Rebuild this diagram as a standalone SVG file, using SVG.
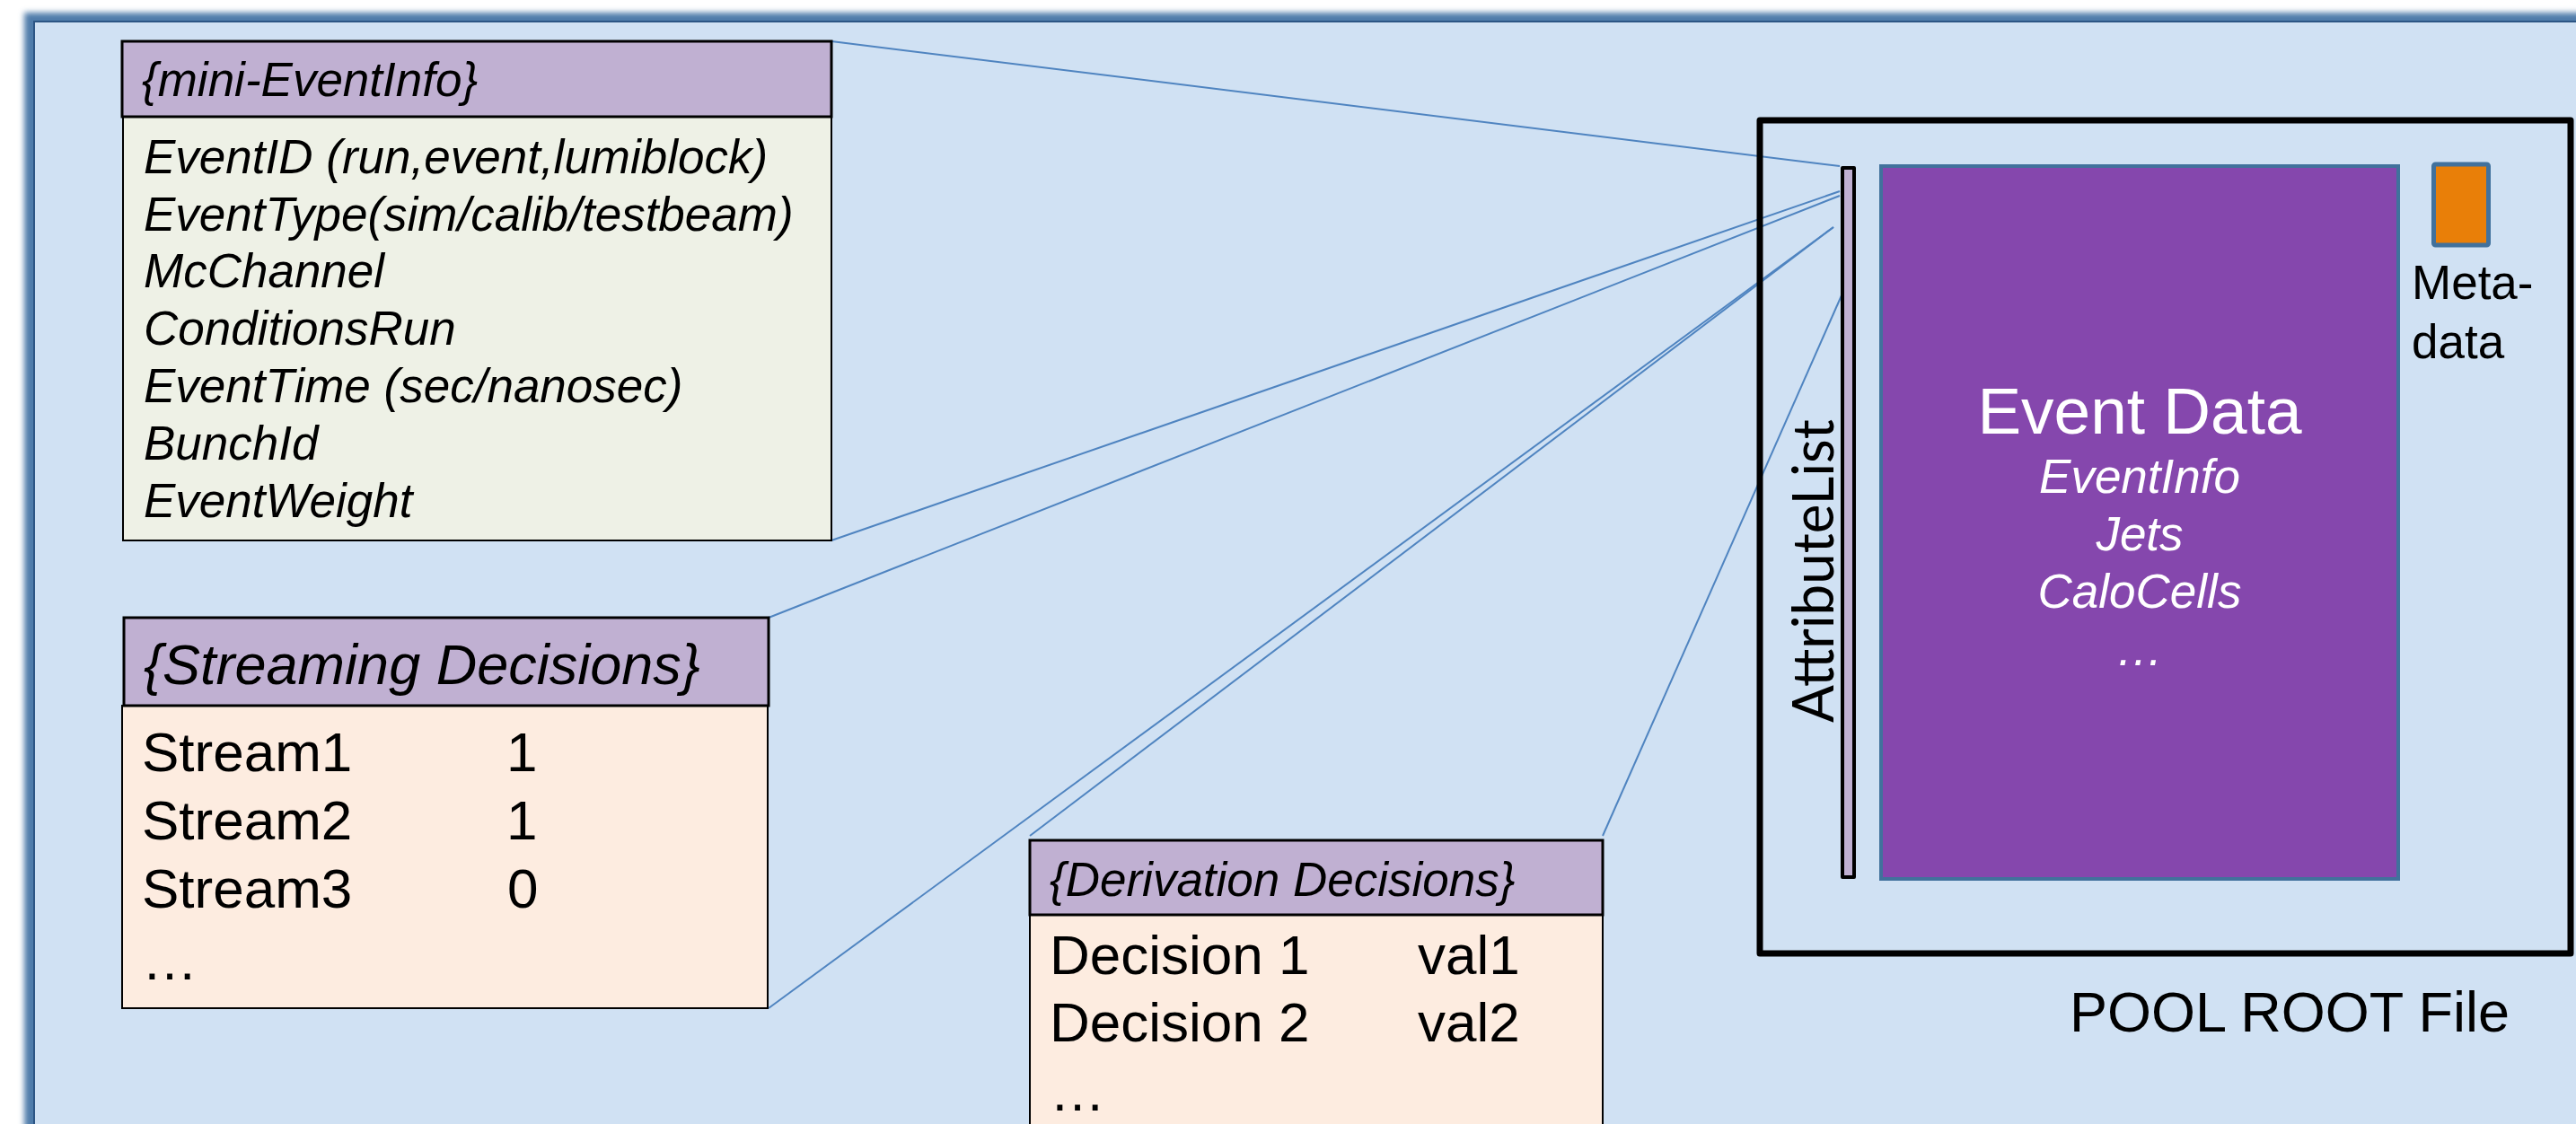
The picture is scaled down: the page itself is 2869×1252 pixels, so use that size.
<svg xmlns="http://www.w3.org/2000/svg" width="2869" height="1252" viewBox="0 0 2869 1252">
  <defs>
    <filter id="shadow" x="-5%" y="-5%" width="110%" height="110%">
      <feGaussianBlur stdDeviation="3"/>
    </filter>
    <style>
      .hdr { fill: #C0B0D2; stroke: #000; stroke-width: 3; }
      .bodyG { fill: #EEF1E6; stroke: #000; stroke-width: 2; }
      .bodyP { fill: #FDECE0; stroke: #000; stroke-width: 2; }
      .t { font-family: "Liberation Sans", Arial, sans-serif; fill: #000; }
      .it { font-style: italic; }
      .w { fill: #FFFFFF; }
      .conn { stroke: #4F84C0; stroke-width: 2; fill: none; }
    </style>
  </defs>

  <rect x="0" y="0" width="2869" height="1252" fill="#FFFFFF"/>
  <!-- background panel -->
  <rect x="27" y="14" width="2900" height="1300" fill="#4F7BAA" filter="url(#shadow)"/>
  <rect x="38" y="24" width="2900" height="1300" fill="#D0E1F3" stroke="#2C5584" stroke-width="2"/>

  <!-- connectors -->
  <g id="connectors" class="conn">
    <line x1="926" y1="46" x2="2049" y2="185"/>
    <line x1="926" y1="602" x2="2049" y2="213"/>
    <line x1="856" y1="688" x2="2049" y2="218"/>
    <line x1="856" y1="1123" x2="2042" y2="253"/>
    <line x1="1147" y1="931" x2="2042" y2="253"/>
    <line x1="1785" y1="931" x2="2059" y2="311"/>
  </g>

  <!-- mini-EventInfo -->
  <g id="mini-eventinfo">
    <rect class="bodyG" x="137" y="130" width="789" height="472"/>
    <rect class="hdr" x="136" y="46" width="790" height="84"/>
    <text class="t it" x="158" y="107" font-size="53">{mini-EventInfo}</text>
    <g class="t it" font-size="53">
      <text x="160" y="193">EventID (run,event,lumiblock)</text>
      <text x="160" y="257">EventType(sim/calib/testbeam)</text>
      <text x="160" y="320">McChannel</text>
      <text x="160" y="384">ConditionsRun</text>
      <text x="160" y="448">EventTime (sec/nanosec)</text>
      <text x="160" y="512">BunchId</text>
      <text x="160" y="576">EventWeight</text>
    </g>
  </g>

  <!-- Streaming Decisions -->
  <g id="streaming-decisions">
    <rect class="bodyP" x="136" y="786" width="719" height="337"/>
    <rect class="hdr" x="138" y="688" width="718" height="98"/>
    <text class="t it" x="160" y="762" font-size="63">{Streaming Decisions}</text>
    <g class="t" font-size="62">
      <text x="158" y="859">Stream1</text>
      <text x="564" y="859">1</text>
      <text x="158" y="935">Stream2</text>
      <text x="564" y="935">1</text>
      <text x="158" y="1011">Stream3</text>
      <text x="565" y="1011">0</text>
      <text x="158" y="1091">…</text>
    </g>
  </g>

  <!-- Derivation Decisions -->
  <g id="derivation-decisions">
    <rect class="bodyP" x="1147" y="1019" width="638" height="260"/>
    <rect class="hdr" x="1147" y="936" width="638" height="83"/>
    <text class="t it" x="1169" y="998" font-size="53">{Derivation Decisions}</text>
    <g class="t" font-size="62">
      <text x="1169" y="1085">Decision 1</text>
      <text x="1579" y="1085">val1</text>
      <text x="1169" y="1160">Decision 2</text>
      <text x="1579" y="1160">val2</text>
      <text x="1169" y="1237">…</text>
    </g>
  </g>

  <!-- POOL ROOT File -->
  <g id="pool-root-file">
    <rect x="1960" y="134" width="903" height="928" fill="none" stroke="#000" stroke-width="7" stroke-linejoin="round"/>
    <text class="t" x="2305" y="1149" font-size="63">POOL ROOT File</text>
  </g>

  <!-- AttributeList -->
  <g id="attribute-list">
    <rect x="2052" y="187" width="13" height="790" fill="#C0B0D2" stroke="#000" stroke-width="4" stroke-linejoin="round"/>
    <text transform="translate(2042,805) rotate(-90)" x="0" y="0" font-family="Lato, 'Open Sans', sans-serif" font-size="63" fill="#000" textLength="338" lengthAdjust="spacingAndGlyphs">AttributeList</text>
  </g>

  <!-- Event Data -->
  <g id="event-data">
    <rect x="2095" y="185" width="576" height="794" fill="#8547AD" stroke="#41719C" stroke-width="4"/>
    <text class="t w" x="2383" y="483" font-size="73" text-anchor="middle">Event Data</text>
    <g class="t w it" font-size="53" text-anchor="middle">
      <text x="2383" y="549">EventInfo</text>
      <text x="2383" y="613">Jets</text>
      <text x="2383" y="677">CaloCells</text>
      <text x="2383" y="741">…</text>
    </g>
  </g>

  <!-- Metadata -->
  <g id="metadata">
    <rect x="2710.5" y="183" width="61" height="90" rx="2" fill="#E97F08" stroke="#41719C" stroke-width="5"/>
    <text class="t" x="2686" y="333" font-size="53">Meta-</text>
    <text class="t" x="2686" y="399" font-size="53">data</text>
  </g>
</svg>
